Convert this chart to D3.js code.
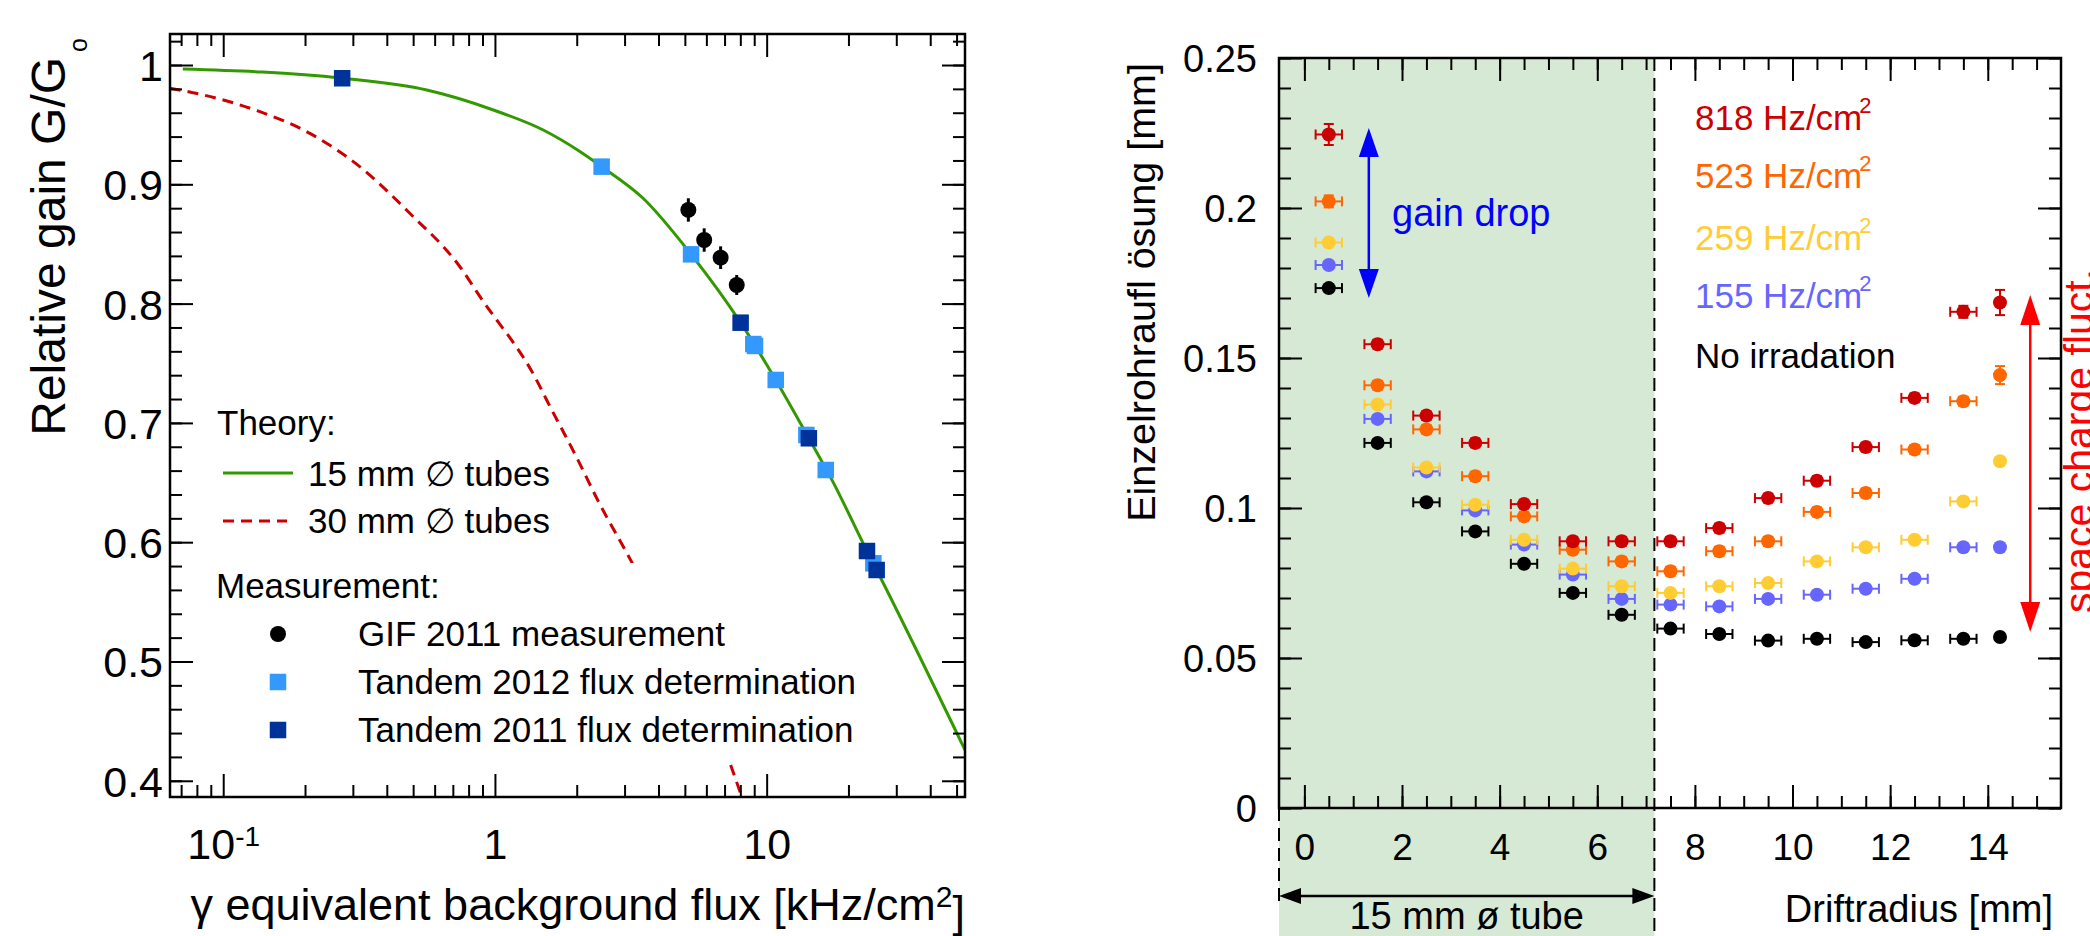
<!DOCTYPE html>
<html>
<head>
<meta charset="utf-8">
<script src="https://cdnjs.cloudflare.com/ajax/libs/d3/7.8.5/d3.min.js"></script>
<style>
  body { margin: 0; background: #fff; }
  svg { display: block; font-family: "Liberation Sans", Arial, Helvetica, sans-serif; }
</style>
</head>
<body>
<svg></svg>
<script>
// ---------- left panel: relative gain vs flux ----------
const fluxTickValues = [0.1, 1, 10];
const fluxTickLabels = ["10^-1", "1", "10"];
const gainTickValues = [0.4, 0.5, 0.6, 0.7, 0.8, 0.9, 1];
const gainTickLabels = ["0.4", "0.5", "0.6", "0.7", "0.8", "0.9", "1"];

const theory15Flux = [0.071, 0.274, 0.561, 0.987, 1.506, 2.06, 2.47, 3.51, 5.27, 8.02, 10.8, 14.3, 17.5, 23.4, 25.4, 53.7];
const theory15Gain = [0.9966, 0.9889, 0.979, 0.9623, 0.9455, 0.9273, 0.9148, 0.8883, 0.8413, 0.784, 0.736, 0.6871, 0.651, 0.5926, 0.5767, 0.4258];

const theory30Flux = [0.0636, 0.0845, 0.1365, 0.2084, 0.318, 0.486, 0.743, 0.881, 1.43, 1.55, 2.03, 2.37, 3.18, 7.33, 8.09];
const theory30Gain = [0.9805, 0.9749, 0.9609, 0.9427, 0.9148, 0.8757, 0.8309, 0.8058, 0.735, 0.7192, 0.668, 0.6368, 0.5837, 0.4147, 0.3868];

const gifFlux = [5.15, 5.89, 6.77, 7.76];
const gifGain = [0.8785, 0.8533, 0.8385, 0.8156];
const gifErr = [0.0098, 0.0098, 0.0095, 0.0084];

const tandem12Flux = [2.47, 5.27, 8.93, 9.06, 10.8, 14.0, 16.5, 24.7];
const tandem12Gain = [0.9148, 0.8413, 0.7661, 0.7645, 0.736, 0.6899, 0.6605, 0.5823];

const tandem11Flux = [0.274, 8.02, 14.3, 23.4, 25.4];
const tandem11Gain = [0.9889, 0.784, 0.6871, 0.5926, 0.5767];

const theoryLabels = ["15 mm \u2205 tubes", "30 mm \u2205 tubes"];
const measLabels = ["GIF 2011 measurement", "Tandem 2012 flux determination", "Tandem 2011 flux determination"];

// ---------- right panel: single tube resolution vs drift radius ----------
const driftRadius = [0.5, 1.5, 2.5, 3.5, 4.5, 5.5, 6.5, 7.5, 8.5, 9.5, 10.5, 11.5, 12.5, 13.5, 14.25];
const radiusErr = [0.27, 0.27, 0.27, 0.27, 0.27, 0.27, 0.27, 0.27, 0.27, 0.27, 0.27, 0.27, 0.27, 0.27, 0];
const radiusTickValues = [0, 2, 4, 6, 8, 10, 12, 14];
const resTickValues = [0, 0.05, 0.1, 0.15, 0.2, 0.25];
const resTickLabels = ["0", "0.05", "0.1", "0.15", "0.2", "0.25"];

const res818 = [0.2245, 0.1546, 0.1308, 0.1217, 0.1013, 0.0889, 0.0889, 0.0889, 0.0933, 0.1033, 0.1091, 0.1203, 0.1367, 0.1654, 0.1685];
const res523 = [0.2022, 0.1409, 0.1262, 0.1106, 0.0972, 0.0861, 0.0822, 0.0789, 0.0856, 0.0889, 0.0987, 0.105, 0.1195, 0.1356, 0.1443];
const res259 = [0.1885, 0.1345, 0.1135, 0.1011, 0.0894, 0.0798, 0.0739, 0.0717, 0.0739, 0.075, 0.0822, 0.0869, 0.0894, 0.1022, 0.1156];
const res155 = [0.181, 0.1297, 0.1122, 0.0992, 0.0878, 0.0778, 0.0697, 0.0678, 0.0672, 0.0697, 0.0711, 0.0731, 0.0764, 0.0869, 0.0869];
const res0 = [0.1733, 0.1217, 0.1019, 0.0922, 0.0814, 0.0717, 0.0644, 0.0598, 0.058, 0.0558, 0.0564, 0.0553, 0.0559, 0.0564, 0.057];

const err818 = [0.0035, 0.0015, 0.0015, 0.0015, 0.0015, 0.0015, 0.0015, 0.0015, 0.0015, 0.0015, 0.0015, 0.0015, 0.0015, 0.002, 0.0042];
const err523 = [0.002, 0.0015, 0.0015, 0.0015, 0.0015, 0.0015, 0.0015, 0.0015, 0.0015, 0.0015, 0.0015, 0.0015, 0.0015, 0.0015, 0.003];
const errLow = [0.0012, 0.0012, 0.0012, 0.0012, 0.0012, 0.0012, 0.0012, 0.0012, 0.0012, 0.0012, 0.0012, 0.0012, 0.0012, 0.0012, 0.0012];

const rateLabels = ["818", "523", "259", "155"];
const tubeInnerRadius = 7.17;

const W = 2090, H = 936;
const FONT = "'Liberation Sans', Arial, Helvetica, sans-serif";

const svg = d3.select("svg").attr("width", W).attr("height", H);

// ============ LEFT PANEL ============
const L = { left: 170, right: 965, top: 34, bottom: 797 };
const xL = d3.scaleLog().domain([0.0637, 53.7]).range([L.left, L.right]);
const yL = d3.scaleLinear().domain([0.3864, 1.026]).range([L.bottom, L.top]);

svg.append("clipPath").attr("id", "clipL")
  .append("rect").attr("x", L.left).attr("y", L.top)
  .attr("width", L.right - L.left).attr("height", L.bottom - L.top);

const gL = svg.append("g");
const plotL = gL.append("g").attr("clip-path", "url(#clipL)");

const lineL = d3.line().x(d => xL(d[0])).y(d => yL(d[1])).curve(d3.curveMonotoneX);

plotL.append("path")
  .datum(theory30Flux.map((f, i) => [f, theory30Gain[i]]))
  .attr("d", lineL).attr("fill", "none")
  .attr("stroke", "#cc0000").attr("stroke-width", 3).attr("stroke-dasharray", "11,7");

plotL.append("path")
  .datum(theory15Flux.map((f, i) => [f, theory15Gain[i]]))
  .attr("d", lineL).attr("fill", "none")
  .attr("stroke", "#339900").attr("stroke-width", 3);

// white legend box that hides part of the dashed curve
gL.append("rect").attr("x", 200).attr("y", 563).attr("width", 600).attr("height", 199).attr("fill", "#fff");

// GIF points
const gif = gifFlux.map((f, i) => ({ x: f, y: gifGain[i], e: gifErr[i] }));
gL.selectAll(".gifErr").data(gif).enter().append("line")
  .attr("x1", d => xL(d.x)).attr("x2", d => xL(d.x))
  .attr("y1", d => yL(d.y - d.e)).attr("y2", d => yL(d.y + d.e))
  .attr("stroke", "#000").attr("stroke-width", 3);
gL.selectAll(".gif").data(gif).enter().append("circle")
  .attr("cx", d => xL(d.x)).attr("cy", d => yL(d.y)).attr("r", 8).attr("fill", "#000");

const sq = 16.5;
gL.selectAll(".t12").data(tandem12Flux.map((f, i) => [f, tandem12Gain[i]])).enter().append("rect")
  .attr("x", d => xL(d[0]) - sq / 2).attr("y", d => yL(d[1]) - sq / 2)
  .attr("width", sq).attr("height", sq).attr("fill", "#3399ff");
gL.selectAll(".t11").data(tandem11Flux.map((f, i) => [f, tandem11Gain[i]])).enter().append("rect")
  .attr("x", d => xL(d[0]) - sq / 2).attr("y", d => yL(d[1]) - sq / 2)
  .attr("width", sq).attr("height", sq).attr("fill", "#003399");

// axes with ROOT-style inside ticks
function styleAxis(sel) {
  sel.select(".domain").remove();
  sel.selectAll(".tick line").attr("stroke", "#000").attr("stroke-width", 2);
  sel.selectAll("text").attr("fill", "#000").style("font-family", FONT);
}
const fluxMinor = [0.07, 0.08, 0.09, 0.2, 0.3, 0.4, 0.5, 0.6, 0.7, 0.8, 0.9, 2, 3, 4, 5, 6, 7, 8, 9, 20, 30, 40, 50];
const gainMinor = d3.range(0.40, 1.021, 0.02);

gL.append("g").attr("transform", `translate(0,${L.bottom})`)
  .call(d3.axisBottom(xL).tickValues(fluxMinor).tickSize(-12).tickFormat(""))
  .call(styleAxis);
gL.append("g").attr("transform", `translate(0,${L.top})`)
  .call(d3.axisTop(xL).tickValues(fluxMinor).tickSize(-12).tickFormat(""))
  .call(styleAxis);
gL.append("g").attr("transform", `translate(0,${L.top})`)
  .call(d3.axisTop(xL).tickValues(fluxTickValues).tickSize(-23).tickFormat(""))
  .call(styleAxis);
const xAxL = gL.append("g").attr("transform", `translate(0,${L.bottom})`)
  .call(d3.axisBottom(xL).tickValues(fluxTickValues).tickSize(-23)
    .tickFormat((d, i) => fluxTickLabels[i]))
  .call(styleAxis);
xAxL.selectAll("text").attr("y", 62).attr("dy", null).style("font-size", "43px")
  .each(function (d, i) {
    const parts = fluxTickLabels[i].split("^");
    if (parts.length > 1) {
      const t = d3.select(this).text(parts[0]);
      t.append("tspan").attr("dy", "-0.45em").style("font-size", "28px").text(parts[1]);
    }
  });

gL.append("g").attr("transform", `translate(${L.left},0)`)
  .call(d3.axisLeft(yL).tickValues(gainMinor).tickSize(-12).tickFormat(""))
  .call(styleAxis);
gL.append("g").attr("transform", `translate(${L.right},0)`)
  .call(d3.axisRight(yL).tickValues(gainMinor).tickSize(-12).tickFormat(""))
  .call(styleAxis);
gL.append("g").attr("transform", `translate(${L.right},0)`)
  .call(d3.axisRight(yL).tickValues(gainTickValues).tickSize(-23).tickFormat(""))
  .call(styleAxis);
const yAxL = gL.append("g").attr("transform", `translate(${L.left},0)`)
  .call(d3.axisLeft(yL).tickValues(gainTickValues).tickSize(-23).tickPadding(7)
    .tickFormat((d, i) => gainTickLabels[i]))
  .call(styleAxis);
yAxL.selectAll("text").style("font-size", "43px").attr("dy", "0.36em");

gL.append("rect").attr("x", L.left).attr("y", L.top)
  .attr("width", L.right - L.left).attr("height", L.bottom - L.top)
  .attr("fill", "none").attr("stroke", "#000").attr("stroke-width", 2.5);

// axis titles
const yTitleL = gL.append("text")
  .attr("transform", `translate(65,38) rotate(-90)`)
  .attr("text-anchor", "end").style("font-size", "48px");
yTitleL.append("tspan").text("Relative gain G/G");
yTitleL.append("tspan").attr("dx", "5").attr("dy", "22").style("font-size", "25px").text("o");

const xTitleL = gL.append("text").attr("x", L.right).attr("y", 920)
  .attr("text-anchor", "end").style("font-size", "45px");
xTitleL.append("tspan").text("\u03b3 equivalent background flux [kHz/cm");
xTitleL.append("tspan").attr("dy", "-0.45em").style("font-size", "30px").text("2");
xTitleL.append("tspan").attr("dy", "0.45em").text("]");

// legend
const legL = gL.append("g").style("font-size", "35px");
legL.append("text").attr("x", 217).attr("y", 435).text("Theory:");
legL.append("line").attr("x1", 223).attr("x2", 293).attr("y1", 473).attr("y2", 473)
  .attr("stroke", "#339900").attr("stroke-width", 3);
legL.append("text").attr("x", 308).attr("y", 486).text(theoryLabels[0]);
legL.append("line").attr("x1", 223).attr("x2", 287).attr("y1", 521).attr("y2", 521)
  .attr("stroke", "#cc0000").attr("stroke-width", 3).attr("stroke-dasharray", "11,7");
legL.append("text").attr("x", 308).attr("y", 533).text(theoryLabels[1]);
legL.append("text").attr("x", 216).attr("y", 598).text("Measurement:");
legL.append("circle").attr("cx", 278).attr("cy", 634).attr("r", 8).attr("fill", "#000");
legL.append("text").attr("x", 358).attr("y", 646).text(measLabels[0]);
legL.append("rect").attr("x", 278 - sq / 2).attr("y", 682 - sq / 2).attr("width", sq).attr("height", sq).attr("fill", "#3399ff");
legL.append("text").attr("x", 358).attr("y", 694).text(measLabels[1]);
legL.append("rect").attr("x", 278 - sq / 2).attr("y", 730 - sq / 2).attr("width", sq).attr("height", sq).attr("fill", "#003399");
legL.append("text").attr("x", 358).attr("y", 742).text(measLabels[2]);

// ============ RIGHT PANEL ============
const R = { left: 1279, right: 2061, top: 58, bottom: 808 };
const xR = d3.scaleLinear().domain([-0.52, 15.5]).range([R.left, R.right]);
const yR = d3.scaleLinear().domain([0, 0.25]).range([R.bottom, R.top]);
const gR = svg.append("g");

// shaded tube region
const xTube = xR(tubeInnerRadius);
gR.append("rect").attr("x", R.left).attr("y", R.top)
  .attr("width", xTube - R.left).attr("height", H - R.top).attr("fill", "#d6e9d5");

gR.append("line").attr("x1", xTube).attr("x2", xTube).attr("y1", R.top).attr("y2", H)
  .attr("stroke", "#000").attr("stroke-width", 2).attr("stroke-dasharray", "13,7");
gR.append("line").attr("x1", R.left).attr("x2", R.left).attr("y1", R.bottom).attr("y2", 902)
  .attr("stroke", "#000").attr("stroke-width", 2).attr("stroke-dasharray", "13,7");

// ticks
const radiusMinor = d3.range(0, 15.01, 0.5);
const resMinor = d3.range(0, 0.2501, 0.01);
gR.append("g").attr("transform", `translate(0,${R.bottom})`)
  .call(d3.axisBottom(xR).tickValues(radiusMinor).tickSize(-12).tickFormat("")).call(styleAxis);
gR.append("g").attr("transform", `translate(0,${R.top})`)
  .call(d3.axisTop(xR).tickValues(radiusMinor).tickSize(-12).tickFormat("")).call(styleAxis);
gR.append("g").attr("transform", `translate(0,${R.top})`)
  .call(d3.axisTop(xR).tickValues(radiusTickValues).tickSize(-23).tickFormat("")).call(styleAxis);
const xAxR = gR.append("g").attr("transform", `translate(0,${R.bottom})`)
  .call(d3.axisBottom(xR).tickValues(radiusTickValues).tickSize(-23).tickFormat(d3.format("d")))
  .call(styleAxis);
xAxR.selectAll("text").attr("y", 52).attr("dy", null).style("font-size", "37px");

gR.append("g").attr("transform", `translate(${R.left},0)`)
  .call(d3.axisLeft(yR).tickValues(resMinor).tickSize(-12).tickFormat("")).call(styleAxis);
gR.append("g").attr("transform", `translate(${R.right},0)`)
  .call(d3.axisRight(yR).tickValues(resMinor).tickSize(-12).tickFormat("")).call(styleAxis);
gR.append("g").attr("transform", `translate(${R.right},0)`)
  .call(d3.axisRight(yR).tickValues(resTickValues).tickSize(-23).tickFormat("")).call(styleAxis);
const yAxR = gR.append("g").attr("transform", `translate(${R.left},0)`)
  .call(d3.axisLeft(yR).tickValues(resTickValues).tickSize(-23).tickPadding(22)
    .tickFormat((d, i) => resTickLabels[i]))
  .call(styleAxis);
yAxR.selectAll("text").style("font-size", "38px").attr("dy", "0.36em");

// data series, drawn so that the highest rate ends on top
const series = [
  { vals: res0, errs: errLow, color: "#000000" },
  { vals: res155, errs: errLow, color: "#6666ff" },
  { vals: res259, errs: errLow, color: "#ffcc33" },
  { vals: res523, errs: err523, color: "#ff6600" },
  { vals: res818, errs: err818, color: "#cc0000" }
];
const cap = 5;
series.forEach(s => {
  const pts = driftRadius.map((r, i) => ({ x: r, xe: radiusErr[i], y: s.vals[i], ye: s.errs[i] }));
  const g = gR.append("g").attr("stroke", s.color).attr("fill", s.color).attr("stroke-width", 2);
  const withX = pts.filter(d => d.xe > 0);
  g.selectAll(".xe").data(withX).enter().append("line")
    .attr("x1", d => xR(d.x - d.xe)).attr("x2", d => xR(d.x + d.xe))
    .attr("y1", d => yR(d.y)).attr("y2", d => yR(d.y));
  g.selectAll(".xcl").data(withX).enter().append("line")
    .attr("x1", d => xR(d.x - d.xe)).attr("x2", d => xR(d.x - d.xe))
    .attr("y1", d => yR(d.y) - cap).attr("y2", d => yR(d.y) + cap);
  g.selectAll(".xcr").data(withX).enter().append("line")
    .attr("x1", d => xR(d.x + d.xe)).attr("x2", d => xR(d.x + d.xe))
    .attr("y1", d => yR(d.y) - cap).attr("y2", d => yR(d.y) + cap);
  g.selectAll(".ye").data(pts).enter().append("line")
    .attr("x1", d => xR(d.x)).attr("x2", d => xR(d.x))
    .attr("y1", d => yR(d.y - d.ye)).attr("y2", d => yR(d.y + d.ye));
  [-1, 1].forEach(sgn => {
    g.selectAll(".yc" + sgn).data(pts).enter().append("line")
      .attr("x1", d => xR(d.x) - cap).attr("x2", d => xR(d.x) + cap)
      .attr("y1", d => yR(d.y + sgn * d.ye)).attr("y2", d => yR(d.y + sgn * d.ye));
  });
  g.selectAll("circle").data(pts).enter().append("circle")
    .attr("cx", d => xR(d.x)).attr("cy", d => yR(d.y)).attr("r", 7).attr("stroke", "none");
});

gR.append("rect").attr("x", R.left).attr("y", R.top)
  .attr("width", R.right - R.left).attr("height", R.bottom - R.top)
  .attr("fill", "none").attr("stroke", "#000").attr("stroke-width", 2.5);

// arrows
function arrow(g, x1, y1, x2, y2, color, len, half, width) {
  const a = Math.atan2(y2 - y1, x2 - x1);
  const ux = Math.cos(a), uy = Math.sin(a);
  g.append("line").attr("x1", x1 + ux * len * 0.8).attr("y1", y1 + uy * len * 0.8)
    .attr("x2", x2 - ux * len * 0.8).attr("y2", y2 - uy * len * 0.8)
    .attr("stroke", color).attr("stroke-width", width);
  [[x1, y1, 1], [x2, y2, -1]].forEach(([px, py, s]) => {
    const bx = px + s * ux * len, by = py + s * uy * len;
    g.append("path")
      .attr("d", `M${px},${py}L${bx - uy * half},${by + ux * half}L${bx + uy * half},${by - ux * half}Z`)
      .attr("fill", color);
  });
}
arrow(gR, xR(1.32), yR(0.2267), xR(1.32), yR(0.170), "#0000ff", 29, 10, 2.5);
arrow(gR, xR(14.87), yR(0.171), xR(14.87), yR(0.0587), "#ff0000", 30, 10, 2.5);
arrow(gR, R.left, 896, xTube, 896, "#000", 22, 8, 2.5);

gR.append("text").attr("x", 1392).attr("y", 226).attr("fill", "#0000ff")
  .style("font-size", "38px").text("gain drop");
gR.append("text").attr("transform", "translate(2093,441) rotate(-90)")
  .attr("text-anchor", "middle").attr("fill", "#ff0000")
  .style("font-size", "41px").text("space charge fluct.");

// rate legend
const legColors = ["#cc0000", "#ff6600", "#ffcc33", "#6666ff"];
const legY = [130, 188, 250, 308];
rateLabels.forEach((lab, i) => {
  const t = gR.append("text").attr("x", 1695).attr("y", legY[i]).attr("fill", legColors[i])
    .style("font-size", "35px");
  t.append("tspan").text(lab + " Hz/cm");
  t.append("tspan").attr("dx", "-3").attr("dy", "-17").style("font-size", "22px").text("2");
});
gR.append("text").attr("x", 1695).attr("y", 368).style("font-size", "35px").text("No irradation");

// titles
gR.append("text").attr("transform", `translate(1155,63) rotate(-90)`)
  .attr("text-anchor", "end").style("font-size", "39.5px").text("Einzelrohraufl \u00f6sung [mm]");
gR.append("text").attr("x", 2053).attr("y", 922).attr("text-anchor", "end")
  .style("font-size", "38px").text("Driftradius [mm]");
gR.append("text").attr("x", (R.left + xTube) / 2).attr("y", 929).attr("text-anchor", "middle")
  .style("font-size", "38px").text("15 mm \u00f8 tube");
</script>
</body>
</html>
